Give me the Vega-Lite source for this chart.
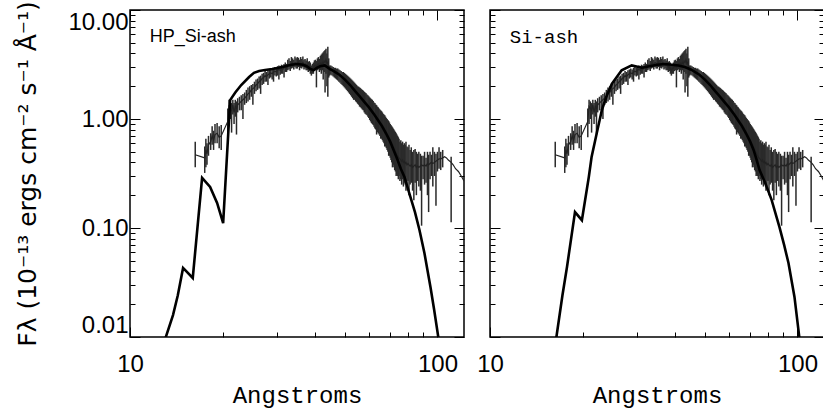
{
"$schema": "https://vega.github.io/schema/vega-lite/v6.json",
"padding": {"left": 15, "top": 0, "right": 0, "bottom": 0},
"background": "white",
"bounds": "flush",
"spacing": 26,
"config": {
  "view": {"stroke": "black", "strokeWidth": 1.5},
  "axis": {"domain": false, "grid": false, "tickColor": "black", "tickWidth": 1, "labelColor": "black", "titleColor": "black", "labelOverlap": false}
},
"datasets": {
"obs": [
{"l":16.3,"f":0.47,"lo":0.36,"hi":0.62},
{"l":17.5,"f":0.44,"lo":0.32,"hi":0.56},
{"l":17.65,"f":0.52,"lo":0.36,"hi":0.66},
{"l":17.8,"f":0.48,"lo":0.38,"hi":0.6},
{"l":18.0,"f":0.58,"lo":0.46,"hi":0.7},
{"l":18.3,"f":0.62,"lo":0.52,"hi":0.74},
{"l":18.5,"f":0.7,"lo":0.58,"hi":0.86},
{"l":18.7,"f":0.64,"lo":0.52,"hi":0.78},
{"l":18.9,"f":0.72,"lo":0.6,"hi":0.9},
{"l":19.2,"f":0.74,"lo":0.6,"hi":0.92},
{"l":19.5,"f":0.68,"lo":0.54,"hi":0.86},
{"l":19.8,"f":0.7,"lo":0.52,"hi":0.88},
{"l":20.8,"f":0.95,"lo":0.68,"hi":1.25},
{"l":21.0,"f":1.3,"lo":0.9,"hi":1.5},
{"l":21.2,"f":1.25,"lo":1.0,"hi":1.45},
{"l":21.4,"f":1.2,"lo":0.75,"hi":1.4},
{"l":21.6,"f":1.35,"lo":1.1,"hi":1.5},
{"l":21.8,"f":1.15,"lo":0.9,"hi":1.4},
{"l":22.0,"f":1.3,"lo":1.05,"hi":1.5},
{"l":22.2,"f":1.25,"lo":0.72,"hi":1.45},
{"l":22.4,"f":1.35,"lo":1.15,"hi":1.55},
{"l":22.7,"f":1.4,"lo":1.2,"hi":1.6},
{"l":23.0,"f":1.45,"lo":1.2,"hi":1.65},
{"l":23.3,"f":1.5,"lo":1.0,"hi":1.7},
{"l":23.6,"f":1.55,"lo":1.35,"hi":1.75},
{"l":23.9,"f":1.62,"lo":1.4,"hi":1.85},
{"l":24.2,"f":1.7,"lo":1.45,"hi":1.95},
{"l":24.5,"f":1.75,"lo":1.5,"hi":2.0},
{"l":24.8,"f":1.85,"lo":1.6,"hi":2.05},
{"l":25.1,"f":1.9,"lo":1.35,"hi":2.1},
{"l":25.4,"f":1.95,"lo":1.7,"hi":2.2},
{"l":25.7,"f":2.05,"lo":1.8,"hi":2.3},
{"l":26.0,"f":2.1,"lo":1.85,"hi":2.35},
{"l":26.3,"f":2.2,"lo":1.9,"hi":2.45},
{"l":26.6,"f":2.25,"lo":1.7,"hi":2.5},
{"l":26.9,"f":2.35,"lo":2.05,"hi":2.6},
{"l":27.2,"f":2.4,"lo":2.1,"hi":2.65},
{"l":27.5,"f":2.5,"lo":2.2,"hi":2.75},
{"l":27.8,"f":2.45,"lo":2.2,"hi":2.7},
{"l":28.1,"f":2.55,"lo":2.05,"hi":2.8},
{"l":28.4,"f":2.6,"lo":2.35,"hi":2.85},
{"l":28.7,"f":2.65,"lo":2.4,"hi":2.9},
{"l":29.0,"f":2.6,"lo":2.3,"hi":2.85},
{"l":29.3,"f":2.7,"lo":2.2,"hi":2.95},
{"l":29.6,"f":2.75,"lo":2.5,"hi":3.0},
{"l":29.9,"f":2.7,"lo":2.45,"hi":2.95},
{"l":30.2,"f":2.8,"lo":2.5,"hi":3.05},
{"l":30.5,"f":2.85,"lo":2.3,"hi":3.1},
{"l":30.8,"f":2.8,"lo":2.55,"hi":3.05},
{"l":31.1,"f":2.9,"lo":2.6,"hi":3.15},
{"l":31.4,"f":2.85,"lo":2.6,"hi":3.1},
{"l":31.7,"f":2.95,"lo":2.4,"hi":3.2},
{"l":32.0,"f":3.0,"lo":2.7,"hi":3.3},
{"l":32.3,"f":2.95,"lo":2.7,"hi":3.2},
{"l":32.6,"f":3.1,"lo":2.8,"hi":3.5},
{"l":32.9,"f":3.15,"lo":2.85,"hi":3.6},
{"l":33.2,"f":3.05,"lo":2.75,"hi":3.4},
{"l":33.5,"f":3.2,"lo":2.9,"hi":3.7},
{"l":33.8,"f":3.25,"lo":2.95,"hi":3.6},
{"l":34.1,"f":3.15,"lo":2.85,"hi":3.5},
{"l":34.4,"f":3.3,"lo":3.0,"hi":3.75},
{"l":34.7,"f":3.25,"lo":2.9,"hi":3.6},
{"l":35.0,"f":3.2,"lo":2.9,"hi":3.7},
{"l":35.3,"f":3.3,"lo":3.0,"hi":3.65},
{"l":35.6,"f":3.15,"lo":2.8,"hi":3.5},
{"l":35.9,"f":3.25,"lo":2.95,"hi":3.7},
{"l":36.2,"f":3.2,"lo":2.9,"hi":3.55},
{"l":36.5,"f":3.3,"lo":3.0,"hi":3.75},
{"l":36.8,"f":3.15,"lo":2.85,"hi":3.5},
{"l":37.1,"f":3.2,"lo":2.9,"hi":3.55},
{"l":37.4,"f":3.1,"lo":2.8,"hi":3.45},
{"l":37.7,"f":3.15,"lo":2.8,"hi":3.6},
{"l":38.0,"f":3.0,"lo":2.7,"hi":3.35},
{"l":38.3,"f":3.05,"lo":2.75,"hi":3.4},
{"l":38.6,"f":2.9,"lo":2.6,"hi":3.3},
{"l":38.9,"f":2.8,"lo":2.5,"hi":3.1},
{"l":39.2,"f":2.9,"lo":2.6,"hi":3.2},
{"l":39.5,"f":2.95,"lo":2.6,"hi":3.3},
{"l":39.8,"f":3.05,"lo":2.75,"hi":3.45},
{"l":40.1,"f":3.1,"lo":2.8,"hi":3.5},
{"l":40.4,"f":3.0,"lo":1.95,"hi":3.4},
{"l":40.7,"f":3.15,"lo":2.8,"hi":3.6},
{"l":41.0,"f":3.2,"lo":2.85,"hi":3.7},
{"l":41.3,"f":3.1,"lo":2.7,"hi":3.55},
{"l":41.6,"f":3.25,"lo":2.8,"hi":3.8},
{"l":41.9,"f":3.15,"lo":2.6,"hi":3.9},
{"l":42.2,"f":3.3,"lo":2.8,"hi":4.0},
{"l":42.5,"f":3.2,"lo":2.3,"hi":4.1},
{"l":42.8,"f":3.4,"lo":2.7,"hi":4.2},
{"l":43.1,"f":3.3,"lo":1.75,"hi":4.3},
{"l":43.4,"f":3.5,"lo":2.6,"hi":4.4},
{"l":43.7,"f":3.2,"lo":2.0,"hi":4.0},
{"l":44.0,"f":3.3,"lo":1.6,"hi":4.6},
{"l":44.3,"f":2.9,"lo":2.4,"hi":3.6},
{"l":44.6,"f":2.8,"lo":2.5,"hi":3.1},
{"l":45.0,"f":2.85,"lo":2.55,"hi":3.1},
{"l":45.4,"f":2.8,"lo":2.5,"hi":3.05},
{"l":45.8,"f":2.75,"lo":2.45,"hi":3.0},
{"l":46.2,"f":2.7,"lo":2.4,"hi":2.95},
{"l":46.6,"f":2.65,"lo":2.35,"hi":2.95},
{"l":47.0,"f":2.6,"lo":2.3,"hi":2.9},
{"l":47.4,"f":2.62,"lo":2.25,"hi":2.9},
{"l":47.8,"f":2.55,"lo":2.2,"hi":2.85},
{"l":48.2,"f":2.5,"lo":2.15,"hi":2.8},
{"l":48.6,"f":2.45,"lo":2.1,"hi":2.75},
{"l":49.0,"f":2.4,"lo":2.05,"hi":2.7},
{"l":49.4,"f":2.35,"lo":2.0,"hi":2.7},
{"l":49.8,"f":2.3,"lo":1.95,"hi":2.65},
{"l":50.2,"f":2.25,"lo":1.9,"hi":2.6},
{"l":50.6,"f":2.2,"lo":1.85,"hi":2.55},
{"l":51.0,"f":2.15,"lo":1.8,"hi":2.5},
{"l":51.4,"f":2.1,"lo":1.75,"hi":2.45},
{"l":51.8,"f":2.05,"lo":1.7,"hi":2.4},
{"l":52.2,"f":2.0,"lo":1.65,"hi":2.35},
{"l":52.6,"f":1.95,"lo":1.6,"hi":2.3},
{"l":53.0,"f":1.9,"lo":1.55,"hi":2.25},
{"l":53.4,"f":1.85,"lo":1.5,"hi":2.2},
{"l":53.8,"f":1.82,"lo":1.5,"hi":2.15},
{"l":54.2,"f":1.78,"lo":1.45,"hi":2.1},
{"l":54.6,"f":1.74,"lo":1.42,"hi":2.05},
{"l":55.0,"f":1.7,"lo":1.38,"hi":2.0},
{"l":55.4,"f":1.66,"lo":1.35,"hi":1.98},
{"l":55.8,"f":1.63,"lo":1.3,"hi":1.95},
{"l":56.2,"f":1.6,"lo":1.28,"hi":1.92},
{"l":56.6,"f":1.56,"lo":1.25,"hi":1.88},
{"l":57.0,"f":1.52,"lo":1.22,"hi":1.85},
{"l":57.4,"f":1.5,"lo":1.2,"hi":1.82},
{"l":57.8,"f":1.46,"lo":1.15,"hi":1.78},
{"l":58.2,"f":1.43,"lo":1.12,"hi":1.75},
{"l":58.6,"f":1.4,"lo":1.1,"hi":1.72},
{"l":59.0,"f":1.37,"lo":1.08,"hi":1.68},
{"l":59.4,"f":1.34,"lo":1.05,"hi":1.65},
{"l":59.8,"f":1.31,"lo":1.02,"hi":1.62},
{"l":60.2,"f":1.28,"lo":0.98,"hi":1.58},
{"l":60.6,"f":1.25,"lo":0.95,"hi":1.55},
{"l":61.0,"f":1.22,"lo":0.92,"hi":1.52},
{"l":61.4,"f":1.19,"lo":0.9,"hi":1.5},
{"l":61.8,"f":1.16,"lo":0.88,"hi":1.46},
{"l":62.2,"f":1.13,"lo":0.85,"hi":1.42},
{"l":62.6,"f":1.1,"lo":0.82,"hi":1.4},
{"l":63.0,"f":1.07,"lo":0.8,"hi":1.36},
{"l":63.4,"f":1.05,"lo":0.72,"hi":1.34},
{"l":63.8,"f":1.02,"lo":0.76,"hi":1.3},
{"l":64.2,"f":0.99,"lo":0.74,"hi":1.28},
{"l":64.6,"f":0.97,"lo":0.72,"hi":1.25},
{"l":65.0,"f":0.94,"lo":0.7,"hi":1.22},
{"l":65.4,"f":0.92,"lo":0.66,"hi":1.2},
{"l":65.8,"f":0.9,"lo":0.66,"hi":1.18},
{"l":66.2,"f":0.88,"lo":0.64,"hi":1.15},
{"l":66.6,"f":0.85,"lo":0.62,"hi":1.12},
{"l":67.0,"f":0.83,"lo":0.6,"hi":1.1},
{"l":67.4,"f":0.8,"lo":0.56,"hi":1.08},
{"l":67.8,"f":0.78,"lo":0.56,"hi":1.05},
{"l":68.2,"f":0.76,"lo":0.54,"hi":1.02},
{"l":68.6,"f":0.73,"lo":0.52,"hi":1.0},
{"l":69.0,"f":0.71,"lo":0.5,"hi":0.98},
{"l":69.4,"f":0.69,"lo":0.46,"hi":0.96},
{"l":69.8,"f":0.66,"lo":0.46,"hi":0.93},
{"l":70.2,"f":0.64,"lo":0.44,"hi":0.9},
{"l":70.6,"f":0.62,"lo":0.42,"hi":0.88},
{"l":71.0,"f":0.6,"lo":0.4,"hi":0.86},
{"l":71.4,"f":0.58,"lo":0.36,"hi":0.84},
{"l":71.8,"f":0.56,"lo":0.38,"hi":0.82},
{"l":72.2,"f":0.54,"lo":0.36,"hi":0.8},
{"l":72.6,"f":0.52,"lo":0.34,"hi":0.78},
{"l":73.0,"f":0.5,"lo":0.33,"hi":0.76},
{"l":73.4,"f":0.49,"lo":0.3,"hi":0.74},
{"l":73.8,"f":0.47,"lo":0.31,"hi":0.72},
{"l":74.2,"f":0.46,"lo":0.3,"hi":0.7},
{"l":74.6,"f":0.45,"lo":0.28,"hi":0.68},
{"l":75.0,"f":0.44,"lo":0.3,"hi":0.66},
{"l":75.5,"f":0.43,"lo":0.27,"hi":0.62},
{"l":76.0,"f":0.42,"lo":0.28,"hi":0.64},
{"l":76.5,"f":0.41,"lo":0.25,"hi":0.6},
{"l":77.0,"f":0.42,"lo":0.28,"hi":0.62},
{"l":77.5,"f":0.4,"lo":0.24,"hi":0.58},
{"l":78.0,"f":0.41,"lo":0.26,"hi":0.6},
{"l":78.5,"f":0.39,"lo":0.25,"hi":0.58},
{"l":79.0,"f":0.4,"lo":0.22,"hi":0.62},
{"l":79.6,"f":0.38,"lo":0.24,"hi":0.56},
{"l":80.2,"f":0.39,"lo":0.27,"hi":0.55},
{"l":80.8,"f":0.38,"lo":0.2,"hi":0.58},
{"l":81.5,"f":0.37,"lo":0.25,"hi":0.52},
{"l":82.2,"f":0.38,"lo":0.26,"hi":0.55},
{"l":83.0,"f":0.36,"lo":0.22,"hi":0.5},
{"l":83.8,"f":0.37,"lo":0.18,"hi":0.52},
{"l":84.6,"f":0.38,"lo":0.26,"hi":0.53},
{"l":85.4,"f":0.36,"lo":0.2,"hi":0.5},
{"l":86.2,"f":0.37,"lo":0.27,"hi":0.48},
{"l":87.0,"f":0.36,"lo":0.24,"hi":0.5},
{"l":88.0,"f":0.37,"lo":0.22,"hi":0.48},
{"l":88.8,"f":0.38,"lo":0.105,"hi":0.46},
{"l":89.8,"f":0.37,"lo":0.28,"hi":0.46},
{"l":90.8,"f":0.38,"lo":0.25,"hi":0.5},
{"l":91.8,"f":0.37,"lo":0.26,"hi":0.44},
{"l":92.8,"f":0.39,"lo":0.2,"hi":0.5},
{"l":93.6,"f":0.38,"lo":0.14,"hi":0.47},
{"l":94.6,"f":0.39,"lo":0.28,"hi":0.5},
{"l":95.6,"f":0.4,"lo":0.3,"hi":0.47},
{"l":96.6,"f":0.39,"lo":0.24,"hi":0.55},
{"l":97.8,"f":0.4,"lo":0.3,"hi":0.5},
{"l":98.9,"f":0.41,"lo":0.16,"hi":0.48},
{"l":100.0,"f":0.42,"lo":0.33,"hi":0.5},
{"l":101.2,"f":0.43,"lo":0.35,"hi":0.55},
{"l":102.5,"f":0.43,"lo":0.34,"hi":0.5},
{"l":104.0,"f":0.44,"lo":0.36,"hi":0.52},
{"l":105.5,"f":0.45},
{"l":107.0,"f":0.44},
{"l":108.5,"f":0.42},
{"l":110.8,"f":0.4,"lo":0.113,"hi":0.45},
{"l":112.5,"f":0.38},
{"l":114.5,"f":0.35},
{"l":117.0,"f":0.33},
{"l":119.5,"f":0.3},
{"l":122.0,"f":0.27}
],
"m1": [
{"l":13.0,"f":0.0095},{"l":13.8,"f":0.0159},{"l":14.3,"f":0.024},{"l":14.88,"f":0.043},{"l":16.0,"f":0.0348},
{"l":17.16,"f":0.288},{"l":18.22,"f":0.238},{"l":19.2,"f":0.17},{"l":20.09,"f":0.111},{"l":21.17,"f":1.49},
{"l":22.0,"f":1.75},{"l":23.0,"f":2.05},{"l":24.4,"f":2.43},{"l":25.3,"f":2.65},{"l":26.3,"f":2.76},
{"l":27.5,"f":2.82},{"l":29.0,"f":2.88},{"l":30.5,"f":2.95},{"l":32.0,"f":3.05},{"l":33.5,"f":3.15},
{"l":35.0,"f":3.2},{"l":36.5,"f":3.15},{"l":37.5,"f":3.05},{"l":38.5,"f":2.9},{"l":39.5,"f":2.8},
{"l":40.5,"f":2.95},{"l":41.5,"f":3.05},{"l":43.0,"f":3.1},{"l":44.5,"f":2.9},{"l":46.0,"f":2.75},
{"l":48.0,"f":2.55},{"l":50.0,"f":2.3},{"l":52.0,"f":2.05},{"l":54.0,"f":1.8},{"l":56.0,"f":1.6},
{"l":58.0,"f":1.42},{"l":60.0,"f":1.27},{"l":62.0,"f":1.12},{"l":64.0,"f":0.98},{"l":66.0,"f":0.86},
{"l":68.0,"f":0.74},{"l":70.0,"f":0.63},{"l":72.0,"f":0.52},{"l":74.0,"f":0.43},{"l":76.0,"f":0.35},
{"l":78.1,"f":0.294},{"l":81.7,"f":0.192},{"l":84.5,"f":0.14},{"l":87.4,"f":0.096},{"l":90.7,"f":0.059},
{"l":94.9,"f":0.0288},{"l":97.5,"f":0.018},{"l":100.9,"f":0.0095}
],
"m2": [
{"l":16.4,"f":0.0095},{"l":17.2,"f":0.024},{"l":17.8,"f":0.0439},{"l":18.9,"f":0.14},{"l":19.9,"f":0.118},
{"l":20.96,"f":0.294},{"l":21.4,"f":0.448},{"l":22.25,"f":0.745},{"l":23.1,"f":1.2},{"l":24.0,"f":1.65},
{"l":24.9,"f":2.1},{"l":26.8,"f":2.8},{"l":28.9,"f":3.1},{"l":31.2,"f":2.95},{"l":33.0,"f":3.05},
{"l":35.0,"f":3.15},{"l":37.0,"f":3.2},{"l":39.0,"f":3.15},{"l":41.0,"f":3.1},{"l":43.0,"f":3.0},
{"l":45.0,"f":2.85},{"l":48.0,"f":2.55},{"l":50.0,"f":2.3},{"l":52.0,"f":2.05},{"l":54.0,"f":1.8},
{"l":56.0,"f":1.6},{"l":58.0,"f":1.42},{"l":60.0,"f":1.27},{"l":62.0,"f":1.12},{"l":64.0,"f":0.98},
{"l":66.0,"f":0.86},{"l":68.0,"f":0.74},{"l":70.0,"f":0.63},{"l":72.0,"f":0.52},{"l":73.5,"f":0.43},
{"l":75.3,"f":0.34},{"l":78.5,"f":0.26},{"l":82.4,"f":0.181},{"l":87.4,"f":0.102},{"l":90.5,"f":0.07},
{"l":93.5,"f":0.0477},{"l":97.8,"f":0.0233},{"l":101.6,"f":0.0095}
]
},
"hconcat": [
{
"width": 334, "height": 327,
"resolve": {"axis": {"x": "independent", "y": "independent"}},
"layer": [
{
"data": {"name": "obs"},
"mark": {"type": "rule", "color": "#2a2a2a", "strokeWidth": 1.5},
"encoding": {
"x": {"field": "l", "type": "quantitative", "scale": {"type": "log", "domain": [10, 122], "nice": false},
  "axis": {"orient": "bottom", "values": [10,20,30,40,50,60,70,80,90,100],
    "labelExpr": "indexof([10,100], datum.value) >= 0 ? format(datum.value, 'd') : ''",
    "tickSize": {"condition": {"test": "indexof([10,100], datum.value) >= 0", "value": -10}, "value": -5},
    "labelFont": "Liberation Sans", "labelFontSize": 24, "labelPadding": 25, "labelFlush": false,
    "title": "Angstroms", "titleFont": "Liberation Mono", "titleFontSize": 24, "titleFontWeight": "normal", "titlePadding": 2}},
"y": {"field": "lo", "type": "quantitative", "scale": {"type": "log", "domain": [0.01, 10], "nice": false},
  "axis": {"orient": "left", "values": [0.01,0.02,0.03,0.04,0.05,0.06,0.07,0.08,0.09,0.1,0.2,0.3,0.4,0.5,0.6,0.7,0.8,0.9,1,2,3,4,5,6,7,8,9,10],
    "labelExpr": "indexof([0.01,0.1,1,10], datum.value) >= 0 ? format(datum.value, '.2f') : ''",
    "tickSize": {"condition": {"test": "indexof([0.01,0.1,1,10], datum.value) >= 0", "value": -10}, "value": -5},
    "labelFont": "Liberation Sans", "labelFontSize": 24, "labelPadding": 12, "labelFlush": true,
    "title": "Fλ (10⁻¹³ ergs cm⁻² s⁻¹ Å⁻¹)", "titleFont": "DejaVu Sans", "titleFontSize": 25, "titleFontWeight": "normal", "titlePadding": 27}},
"y2": {"field": "hi"}
}
},
{
"data": {"name": "obs"},
"mark": {"type": "line", "color": "#222222", "strokeWidth": 1.2, "clip": true},
"encoding": {
"x": {"field": "l", "type": "quantitative", "scale": {"type": "log", "domain": [10, 122], "nice": false},
  "axis": {"orient": "top", "values": [10,20,30,40,50,60,70,80,90,100], "labels": false, "title": null,
    "tickSize": {"condition": {"test": "indexof([10,100], datum.value) >= 0", "value": -10}, "value": -5}}},
"y": {"field": "f", "type": "quantitative", "scale": {"type": "log", "domain": [0.01, 10], "nice": false},
  "axis": {"orient": "right", "values": [0.01,0.02,0.03,0.04,0.05,0.06,0.07,0.08,0.09,0.1,0.2,0.3,0.4,0.5,0.6,0.7,0.8,0.9,1,2,3,4,5,6,7,8,9,10], "labels": false, "title": null,
    "tickSize": {"condition": {"test": "indexof([0.01,0.1,1,10], datum.value) >= 0", "value": -10}, "value": -5}}}
}
},
{
"data": {"name": "m1"},
"mark": {"type": "line", "color": "black", "strokeWidth": 2.6, "clip": true},
"encoding": {
"x": {"field": "l", "type": "quantitative", "scale": {"type": "log", "domain": [10, 122], "nice": false}, "axis": null},
"y": {"field": "f", "type": "quantitative", "scale": {"type": "log", "domain": [0.01, 10], "nice": false}, "axis": null}
}
},
{
"data": {"values": [{"l": 11.6, "f": 5.1, "t": "HP_Si-ash"}]},
"mark": {"type": "text", "align": "left", "baseline": "alphabetic", "font": "Liberation Sans", "fontSize": 18, "color": "black"},
"encoding": {
"x": {"field": "l", "type": "quantitative", "axis": null},
"y": {"field": "f", "type": "quantitative", "axis": null},
"text": {"field": "t"}
}
}
]
},
{
"width": 334, "height": 327,
"resolve": {"axis": {"x": "independent", "y": "independent"}},
"layer": [
{
"data": {"name": "obs"},
"mark": {"type": "rule", "color": "#2a2a2a", "strokeWidth": 1.5},
"encoding": {
"x": {"field": "l", "type": "quantitative", "scale": {"type": "log", "domain": [10, 122], "nice": false},
  "axis": {"orient": "bottom", "values": [10,20,30,40,50,60,70,80,90,100],
    "labelExpr": "indexof([10,100], datum.value) >= 0 ? format(datum.value, 'd') : ''",
    "tickSize": {"condition": {"test": "indexof([10,100], datum.value) >= 0", "value": -10}, "value": -5},
    "labelFont": "Liberation Sans", "labelFontSize": 24, "labelPadding": 25, "labelFlush": false,
    "title": "Angstroms", "titleFont": "Liberation Mono", "titleFontSize": 24, "titleFontWeight": "normal", "titlePadding": 2}},
"y": {"field": "lo", "type": "quantitative", "scale": {"type": "log", "domain": [0.01, 10], "nice": false},
  "axis": {"orient": "left", "values": [0.01,0.02,0.03,0.04,0.05,0.06,0.07,0.08,0.09,0.1,0.2,0.3,0.4,0.5,0.6,0.7,0.8,0.9,1,2,3,4,5,6,7,8,9,10], "labels": false, "title": null,
    "tickSize": {"condition": {"test": "indexof([0.01,0.1,1,10], datum.value) >= 0", "value": -10}, "value": -5}}},
"y2": {"field": "hi"}
}
},
{
"data": {"name": "obs"},
"mark": {"type": "line", "color": "#222222", "strokeWidth": 1.2, "clip": true},
"encoding": {
"x": {"field": "l", "type": "quantitative", "scale": {"type": "log", "domain": [10, 122], "nice": false},
  "axis": {"orient": "top", "values": [10,20,30,40,50,60,70,80,90,100], "labels": false, "title": null,
    "tickSize": {"condition": {"test": "indexof([10,100], datum.value) >= 0", "value": -10}, "value": -5}}},
"y": {"field": "f", "type": "quantitative", "scale": {"type": "log", "domain": [0.01, 10], "nice": false},
  "axis": {"orient": "right", "values": [0.01,0.02,0.03,0.04,0.05,0.06,0.07,0.08,0.09,0.1,0.2,0.3,0.4,0.5,0.6,0.7,0.8,0.9,1,2,3,4,5,6,7,8,9,10], "labels": false, "title": null,
    "tickSize": {"condition": {"test": "indexof([0.01,0.1,1,10], datum.value) >= 0", "value": -10}, "value": -5}}}
}
},
{
"data": {"name": "m2"},
"mark": {"type": "line", "color": "black", "strokeWidth": 2.6, "clip": true},
"encoding": {
"x": {"field": "l", "type": "quantitative", "scale": {"type": "log", "domain": [10, 122], "nice": false}, "axis": null},
"y": {"field": "f", "type": "quantitative", "scale": {"type": "log", "domain": [0.01, 10], "nice": false}, "axis": null}
}
},
{
"data": {"values": [{"l": 11.6, "f": 5.0, "t": "Si-ash"}]},
"mark": {"type": "text", "align": "left", "baseline": "alphabetic", "font": "Liberation Mono", "fontSize": 19, "color": "black"},
"encoding": {
"x": {"field": "l", "type": "quantitative", "axis": null},
"y": {"field": "f", "type": "quantitative", "axis": null},
"text": {"field": "t"}
}
}
]
}
]
}
